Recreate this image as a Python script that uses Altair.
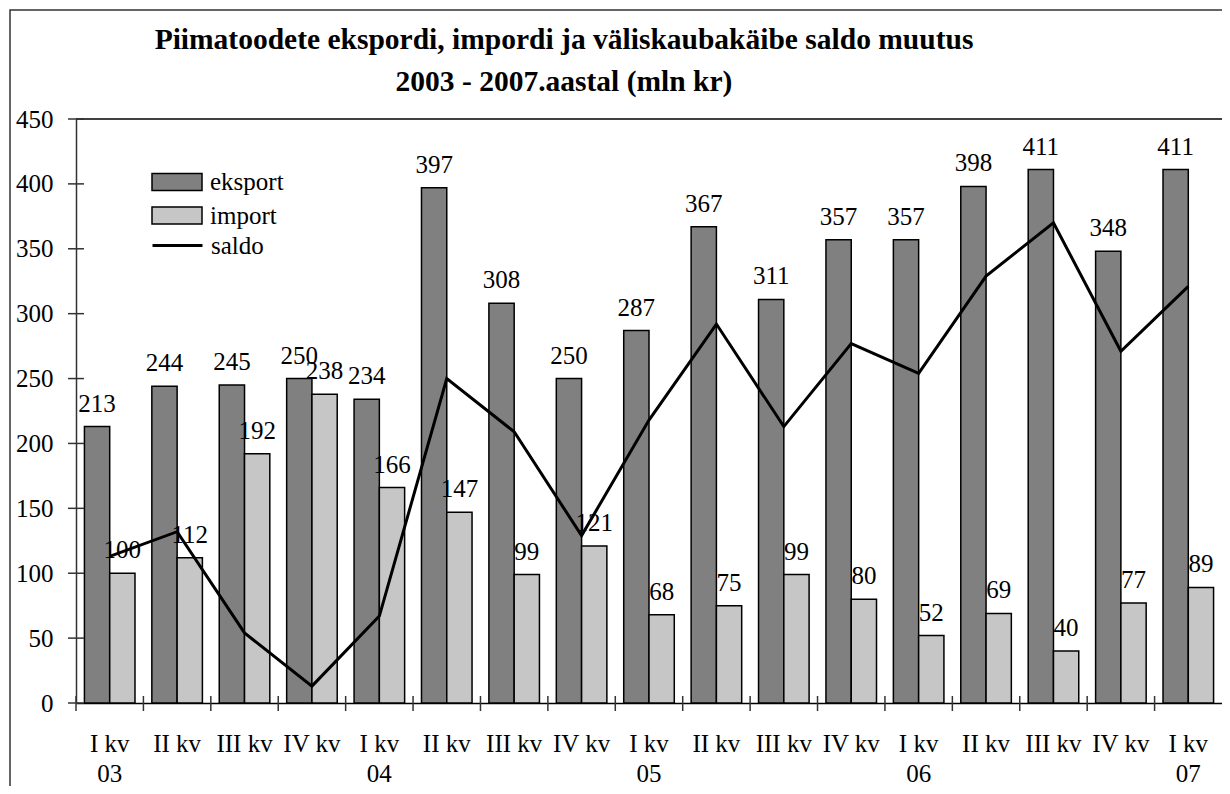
import json
import altair as alt
import pandas as pd

# ---- data ----
quarter_labels = ["I kv", "II kv", "III kv", "IV kv",
                  "I kv", "II kv", "III kv", "IV kv",
                  "I kv", "II kv", "III kv", "IV kv",
                  "I kv", "II kv", "III kv", "IV kv",
                  "I kv"]
year_labels = ["03", "", "", "", "04", "", "", "", "05", "", "", "",
               "06", "", "", "", "07"]
eksport = [213, 244, 245, 250, 234, 397, 308, 250, 287, 367, 311, 357,
           357, 398, 411, 348, 411]
import_ = [100, 112, 192, 238, 166, 147, 99, 121, 68, 75, 99, 80,
           52, 69, 40, 77, 89]
saldo = [113, 132, 54, 13, 67, 250, 209, 129, 218, 292, 213, 277,
         254, 329, 370, 271, 321]
y_ticks = [0, 50, 100, 150, 200, 250, 300, 350, 400, 450]
series_names = ["eksport", "import"]
series_colors = ["#808080", "#c6c6c6"]
line_name = "saldo"
title_lines = ["Piimatoodete ekspordi, impordi ja väliskaubakäibe saldo muutus",
               "2003 - 2007.aastal (mln kr)"]

# ---- layout / style ----
W, H = 1146, 584
FONT = "'Liberation Serif', 'Times New Roman', serif"
N = len(quarter_labels)
PI = 0.25
STEP = W / N

idx = list(range(N))
label_lines = [[q, y] if y else [q] for q, y in zip(quarter_labels, year_labels)]
label_expr = json.dumps(label_lines) + "[datum.value]"

exp_df = pd.DataFrame({"idx": idx, "series": series_names[0], "value": eksport})
imp_df = pd.DataFrame({"idx": idx, "series": series_names[1], "value": import_})
line_df = pd.DataFrame({"idx": idx, "value": saldo, "s": [line_name] * N})
xt_df = pd.DataFrame({"idx": idx})
yt_df = pd.DataFrame({"value": y_ticks})
one_df = pd.DataFrame({"a": [0]})

x_scale = alt.Scale(paddingInner=PI, paddingOuter=PI / 2)
x_axis = alt.Axis(title=None, labelExpr=label_expr, labelAngle=0, ticks=False,
                  labelFont=FONT, labelFontSize=25, labelColor="black",
                  labelPadding=28, labelLineHeight=30, labelBaseline="top",
                  domainColor="black", domainWidth=1.5, grid=False)
y_scale = alt.Scale(domain=[0, 450], nice=False)
y_axis = alt.Axis(title=None, values=y_ticks, ticks=False, labelFont=FONT,
                  labelFontSize=25, labelColor="black", labelPadding=23,
                  domainColor="#333333", domainWidth=1.5, grid=False)

X = alt.X("idx:O", scale=x_scale, axis=x_axis)
Y = alt.Y("value:Q", scale=y_scale, axis=y_axis)
XOFF = alt.XOffset("series:N", sort=series_names,
                   scale=alt.Scale(domain=series_names, paddingInner=0, paddingOuter=0))


def swatch_legend(y):
    return alt.Legend(title=None, orient="none", legendX=75, legendY=y,
                      symbolType="M-1,-0.34H1V0.34H-1Z", symbolSize=2500,
                      symbolStrokeColor="black", symbolStrokeWidth=1.5,
                      labelFont=FONT, labelFontSize=25, labelColor="black",
                      labelOffset=7, padding=0)


frame = alt.Chart(one_df).mark_rect(fill=None, stroke="#333333", strokeWidth=1.5).encode(
    x=alt.value(-66), x2=alt.value(W + 100), y=alt.value(-109), y2=alt.value(H + 200)
)

title = alt.Chart(one_df).mark_text(
    text=title_lines, font=FONT, fontSize=29.5, fontWeight="bold", color="black",
    align="center", baseline="alphabetic", lineHeight=42
).encode(x=alt.value(488), y=alt.value(-70))

top_rule = alt.Chart(one_df).mark_rule(color="black", strokeWidth=1.5).encode(
    y=alt.Y(datum=450, scale=y_scale, axis=y_axis), x=alt.value(0), x2=alt.value(W + 20)
)

bars_exp = alt.Chart(exp_df).mark_bar(stroke="black", strokeWidth=1.5).encode(
    x=X, xOffset=XOFF, y=Y,
    fill=alt.Fill("series:N", scale=alt.Scale(domain=[series_names[0]], range=[series_colors[0]]),
                  legend=swatch_legend(37)),
)
bars_imp = alt.Chart(imp_df).mark_bar(stroke="black", strokeWidth=1.5).encode(
    x=X, xOffset=XOFF, y=Y,
    fill=alt.Fill("series:N", scale=alt.Scale(domain=[series_names[1]], range=[series_colors[1]]),
                  legend=swatch_legend(70.5)),
)

labels = alt.layer(
    *[alt.Chart(d).mark_text(font=FONT, fontSize=25, color="black",
                             baseline="alphabetic", dy=-15).encode(
        x=X, xOffset=XOFF, y=Y, text=alt.Text("value:Q"))
      for d in (exp_df, imp_df)]
)

line = alt.Chart(line_df).mark_line(strokeWidth=3).encode(
    x=X, y=Y,
    stroke=alt.Stroke("s:N", scale=alt.Scale(domain=[line_name], range=["black"]),
                      legend=alt.Legend(title=None, orient="none", legendX=75, legendY=100,
                                        symbolType="stroke", symbolSize=2500,
                                        symbolStrokeWidth=3,
                                        labelFont=FONT, labelFontSize=25, labelColor="black",
                                        labelOffset=7, padding=0)),
)

y_tick_marks = alt.Chart(yt_df).mark_rule(color="#333333", strokeWidth=1.5).encode(
    y=Y, x=alt.value(-8), x2=alt.value(8)
)

x_tick_marks = alt.Chart(xt_df).mark_rule(color="#333333", strokeWidth=1.5,
                                           xOffset=-STEP * PI / 2).encode(
    x=alt.X("idx:O", scale=x_scale, axis=x_axis, bandPosition=0),
    y=alt.value(H - 7), y2=alt.value(H + 8)
)

chart = alt.layer(
    frame, title, top_rule, bars_exp, bars_imp, labels, line, y_tick_marks, x_tick_marks
).resolve_scale(fill="independent").properties(
    width=W, height=H,
    padding={"left": 68, "top": 111, "right": 0, "bottom": 83},
    autosize=alt.AutoSizeParams(type="none"),
).configure_view(stroke=None)

chart.save("out.html", embed_options={"renderer": "svg", "actions": False})
